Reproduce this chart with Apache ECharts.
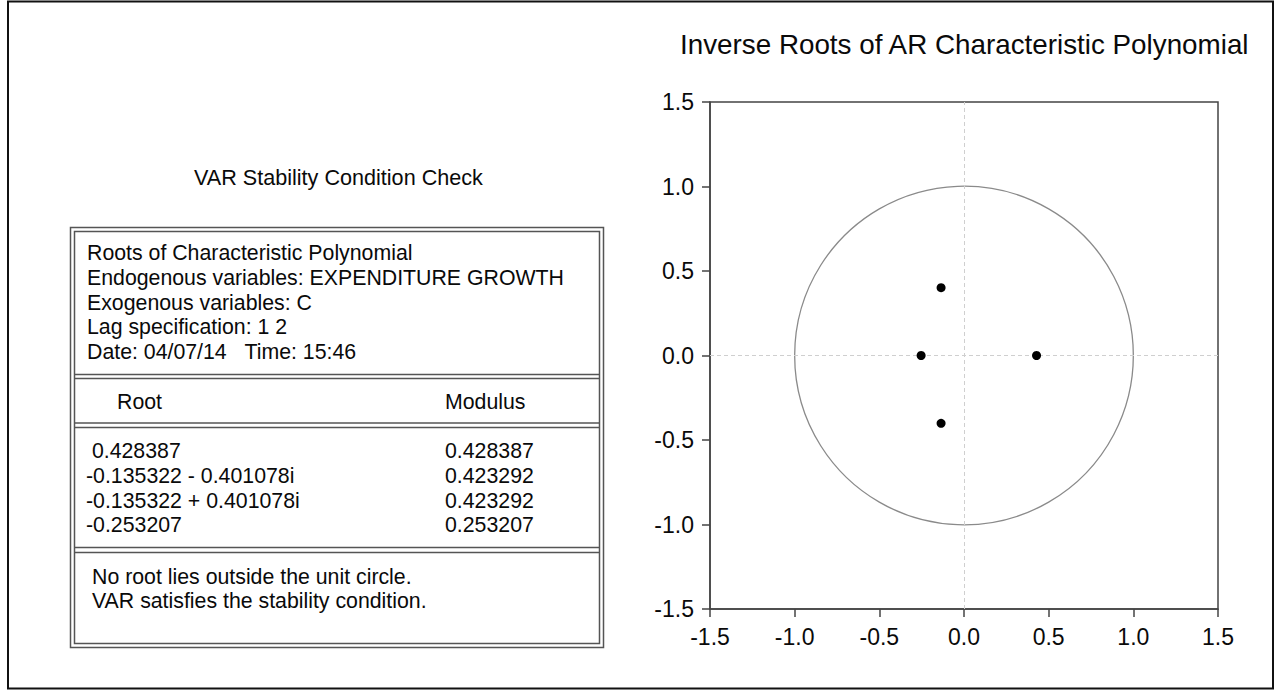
<!DOCTYPE html>
<html>
<head>
<meta charset="utf-8">
<script src="https://cdn.jsdelivr.net/npm/echarts@6/dist/echarts.min.js"></script>
<style>
html,body{margin:0;padding:0;background:#fff;}
#main{width:1279px;height:691px;}
</style>
</head>
<body>
<div id="main"></div>
<script>
// ---- data ----
const chartTitle = 'Inverse Roots of AR Characteristic Polynomial';
const panelTitle = 'VAR Stability Condition Check';
const headerLines = [
  'Roots of Characteristic Polynomial',
  'Endogenous variables: EXPENDITURE GROWTH',
  'Exogenous variables: C',
  'Lag specification: 1 2',
  'Date: 04/07/14\u00a0\u00a0\u00a0Time: 15:46'
];
const columnHeads = ['Root', 'Modulus'];
const rootLabels = ['\u00a00.428387', '-0.135322 - 0.401078i', '-0.135322 + 0.401078i', '-0.253207'];
const moduli = ['0.428387', '0.423292', '0.423292', '0.253207'];
const footerLines = ['No root lies outside the unit circle.', 'VAR satisfies the stability condition.'];
const rootRe = [0.428387, -0.135322, -0.135322, -0.253207];
const rootIm = [0, -0.401078, 0.401078, 0];
const unitCircle = [[0, 0, 1]]; // centre x, centre y, radius
const axisMin = -1.5, axisMax = 1.5, axisStep = 0.5;

// ---- styles ----
const FONT = '"Liberation Sans", Arial, sans-serif';
const TXT = '#0a0a0a';
const LINE = '#555';

const graphics = [];
// outer page frame
graphics.push({type:'rect', shape:{x:8, y:1.5, width:1265, height:687}, style:{fill:'none', stroke:'#111', lineWidth:2}, silent:true});
// table double border
graphics.push({type:'rect', shape:{x:70.5, y:227.5, width:533, height:420}, style:{fill:'none', stroke:LINE, lineWidth:1.5}, silent:true});
graphics.push({type:'rect', shape:{x:74.5, y:231.5, width:525, height:412}, style:{fill:'none', stroke:LINE, lineWidth:1.5}, silent:true});
// double separators
[[374.5, 378.5], [423, 427.5], [547.5, 552.5]].forEach(function (p) {
  p.forEach(function (y) {
    graphics.push({type:'line', shape:{x1:74.5, y1:y, x2:599.5, y2:y}, style:{stroke:LINE, lineWidth:1.5}, silent:true});
  });
});
function txt(s, x, y, size) {
  graphics.push({type:'text', silent:true, style:{text:s, x:x, y:y, fontSize:size || 21.3, fontFamily:FONT, fill:TXT, align:'left', verticalAlign:'middle'}});
}
headerLines.forEach(function (s, i) { txt(s, 87, 253 + i * 24.8); });
txt(columnHeads[0], 117, 402);
txt(columnHeads[1], 445, 402);
rootLabels.forEach(function (s, i) { txt(s, 86, 451 + i * 24.8); });
moduli.forEach(function (s, i) { txt(s, 445, 451 + i * 24.8); });
footerLines.forEach(function (s, i) { txt(s, 92, 577 + i * 24); });

const scatterData = rootRe.map(function (x, i) { return [x, rootIm[i]]; });

const axisCommon = {
  type: 'value', min: axisMin, max: axisMax, interval: axisStep,
  axisLine: {show: true, onZero: false, lineStyle: {color: '#444', width: 1.5}},
  axisTick: {show: true, inside: false, length: 8, lineStyle: {color: '#444', width: 1.5}},
  axisLabel: {fontSize: 23, fontFamily: FONT, color: TXT, margin: 16, formatter: function (v) { return v.toFixed(1); }},
  splitLine: {show: false}
};

const chart = echarts.init(document.getElementById('main'), null, {renderer: 'svg'});
chart.setOption({
  backgroundColor: '#fff',
  animation: false,
  title: [
    {text: chartTitle, left: 680, top: 30, padding: 0, textStyle: {fontSize: 27.8, fontWeight: 'normal', fontFamily: FONT, color: TXT}},
    {text: panelTitle, left: 194, top: 166, padding: 0, textStyle: {fontSize: 21.6, fontWeight: 'normal', fontFamily: FONT, color: TXT}}
  ],
  grid: {left: 710, right: 61, top: 102, bottom: 82, show: true, borderColor: '#444', borderWidth: 1.5, containLabel: false},
  xAxis: Object.assign({}, axisCommon),
  yAxis: Object.assign({}, axisCommon),
  graphic: graphics,
  series: [
    {
      type: 'custom',
      silent: true,
      data: unitCircle,
      renderItem: function (params, api) {
        const c = api.coord([api.value(0), api.value(1)]);
        const s = api.size([api.value(2), api.value(2)]);
        return {type: 'circle', shape: {cx: c[0], cy: c[1], r: s[0]}, style: {fill: 'none', stroke: '#8a8a8a', lineWidth: 1.3}};
      },
      z: 1,
      markLine: {
        silent: true,
        symbol: 'none',
        label: {show: false},
        lineStyle: {color: '#cfcfcf', type: [4, 3], width: 1},
        data: [{xAxis: 0}, {yAxis: 0}]
      }
    },
    {
      type: 'scatter',
      data: scatterData,
      symbol: 'circle',
      symbolSize: 9,
      itemStyle: {color: '#000', opacity: 1},
      z: 5
    }
  ]
});
</script>
</body>
</html>
